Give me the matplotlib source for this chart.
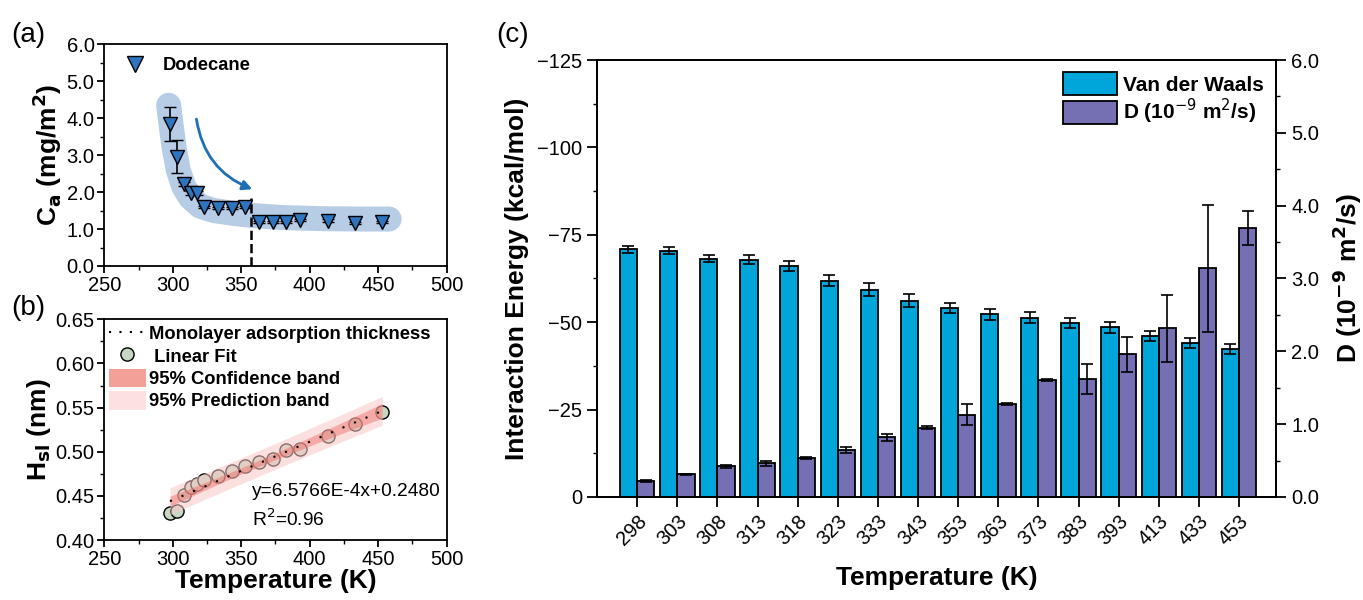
import numpy as np
import matplotlib
matplotlib.use("Agg")
import matplotlib.pyplot as plt
from matplotlib.patches import Patch
from matplotlib.lines import Line2D

plt.rcParams['font.family'] = ['Liberation Sans', 'DejaVu Sans']
plt.rcParams['axes.linewidth'] = 1.3
plt.rcParams['xtick.major.width'] = 1.3
plt.rcParams['ytick.major.width'] = 1.3
plt.rcParams['xtick.minor.width'] = 1.0
plt.rcParams['ytick.minor.width'] = 1.0

# ---- data ----
temps = [298, 303, 308, 313, 318, 323, 333, 343, 353, 363, 373, 383, 393, 413, 433, 453]

# (a) adsorption amount of dodecane
ca = [3.84, 2.96, 2.22, 1.97, 1.97, 1.60, 1.56, 1.56, 1.59, 1.20, 1.20, 1.20, 1.24, 1.23, 1.17, 1.20]
ca_err = [0.45, 0.45, 0.05, 0.05, 0.05, 0.03, 0.03, 0.03, 0.03, 0.03, 0.03, 0.03, 0.03, 0.03, 0.03, 0.03]

# (b) adsorption layer thickness
hsl = [0.431, 0.433, 0.451, 0.460, 0.464, 0.468, 0.473, 0.478, 0.484, 0.488,
       0.492, 0.502, 0.503, 0.518, 0.531, 0.545]

# (c) interaction energy and diffusion coefficient
vdw = [-70.8, -70.5, -68.2, -67.9, -66.1, -61.9, -59.3, -56.2, -54.1, -52.2,
       -51.3, -49.7, -48.5, -46.1, -44.1, -42.4]
vdw_err = [1.0, 1.0, 1.0, 1.2, 1.5, 1.5, 1.8, 1.8, 1.5, 1.5, 1.5, 1.5, 1.5, 1.5, 1.5, 1.5]
diff = [0.22, 0.31, 0.42, 0.46, 0.54, 0.64, 0.82, 0.95, 1.13, 1.28, 1.61, 1.62, 1.96, 2.32, 3.14, 3.69]
diff_err = [0.01, 0.01, 0.02, 0.04, 0.015, 0.04, 0.05, 0.02, 0.14, 0.015, 0.015, 0.21, 0.24, 0.46, 0.87, 0.23]

fig = plt.figure(figsize=(13.63, 6.0), dpi=100)

lab_fs = 19
tick_fs = 14.5

# ================= (a) =================
axa = fig.add_axes([0.0765, 0.5567, 0.2512, 0.3695])
# shaded guide band
bx = [297, 298.5, 301, 304, 308, 313, 320, 330, 345, 360, 380, 410, 440, 458]
by = [4.35, 3.9, 3.2, 2.6, 2.15, 1.85, 1.62, 1.5, 1.42, 1.36, 1.31, 1.28, 1.27, 1.27]
axa.plot(bx, by, color='#b7cde5', lw=18, solid_capstyle='round',
         solid_joinstyle='round', zorder=1)
axa.plot([357, 357], [0, 1.85], 'k--', lw=1.8, zorder=2)
axa.annotate('', xy=(360, 2.05), xytext=(317, 4.05),
             arrowprops=dict(arrowstyle='-|>', color='#1f6fb5', lw=2,
                             connectionstyle='arc3,rad=0.3', mutation_scale=14))
axa.errorbar(temps, ca, yerr=ca_err, fmt='v', color='k', ecolor='k', elinewidth=1.2,
             capsize=4, mfc='#2e75c0', mec='k', ms=10, mew=1.0, zorder=3)
axa.set_xlim(250, 500)
axa.set_ylim(0, 6)
axa.set_xticks([250, 300, 350, 400, 450, 500])
axa.set_xticks([275, 325, 375, 425, 475], minor=True)
axa.set_yticks(np.arange(0, 6.01, 1.0))
axa.set_yticks(np.arange(0.5, 6, 1.0), minor=True)
axa.set_yticklabels(['%.1f' % v for v in np.arange(0, 6.01, 1.0)])
axa.tick_params(labelsize=tick_fs, direction='out', length=5, pad=2)
axa.tick_params(which='minor', length=3)
axa.set_ylabel('C$_\\mathbf{a}$ (mg/m$^\\mathbf{2}$)', fontsize=lab_fs, fontweight='bold', labelpad=2)
h_a = [Line2D([], [], ls='', marker='v', ms=11, mfc='#2e75c0', mec='k')]
axa.legend(h_a, ['Dodecane'], loc='upper left', frameon=False,
           prop={'weight': 'bold', 'size': 13.2}, handletextpad=0.5, borderaxespad=0.3)
fig.text(0.008, 0.93, '(a)', fontsize=20)

# ================= (b) =================
axb = fig.add_axes([0.0765, 0.1, 0.2512, 0.3678])
T = np.array(temps, dtype=float)
H = np.array(hsl)
slope, icpt = np.polyfit(T, H, 1)
res = H - (slope * T + icpt)
n = len(T)
s = np.sqrt(np.sum(res ** 2) / (n - 2))
tval = 2.145
xf = np.linspace(298, 453, 100)
yf = slope * xf + icpt
se_fit = s * np.sqrt(1 / n + (xf - T.mean()) ** 2 / np.sum((T - T.mean()) ** 2))
se_pred = s * np.sqrt(1 + 1 / n + (xf - T.mean()) ** 2 / np.sum((T - T.mean()) ** 2))
axb.scatter(T, H, s=90, c='#c6d7c2', edgecolors='k', linewidths=1.0, zorder=2)
axb.fill_between(xf, yf - tval * se_pred, yf + tval * se_pred, color='#fbc8c8', alpha=0.55,
                 lw=0, zorder=3)
axb.fill_between(xf, yf - tval * se_fit, yf + tval * se_fit, color='#ee6a62', alpha=0.45,
                 lw=0, zorder=4)
axb.plot(xf, yf, color='k', ls=(0, (1, 5)), lw=1.5, zorder=5)
axb.set_xlim(250, 500)
axb.set_ylim(0.40, 0.65)
axb.set_xticks([250, 300, 350, 400, 450, 500])
axb.set_xticks([275, 325, 375, 425, 475], minor=True)
axb.set_yticks(np.arange(0.40, 0.651, 0.05))
axb.set_yticks(np.arange(0.425, 0.65, 0.05), minor=True)
axb.set_yticklabels(['%.2f' % v for v in np.arange(0.40, 0.651, 0.05)])
axb.tick_params(labelsize=tick_fs, direction='out', length=5, pad=2)
axb.tick_params(which='minor', length=3)
axb.set_ylabel('H$_\\mathbf{sl}$ (nm)', fontsize=lab_fs, fontweight='bold', labelpad=2)
axb.set_xlabel('Temperature (K)', fontsize=lab_fs, fontweight='bold', labelpad=0)
axb.text(358, 0.455, 'y=6.5766E-4x+0.2480', fontsize=13.8, va='center')
axb.text(358, 0.424, 'R$^2$=0.96', fontsize=13.8, va='center')
handles_b = [Line2D([], [], color='k', ls=(0, (1, 4)), lw=1.5),
             Line2D([], [], ls='', marker='o', ms=9.5, mfc='#c6d7c2', mec='k'),
             Patch(facecolor='#f3a099', edgecolor='none'),
             Patch(facecolor='#fde0e0', edgecolor='none')]
labels_b = ['Monolayer adsorption thickness', ' Linear Fit',
            '95% Confidence band', '95% Prediction band']
axb.legend(handles_b, labels_b, loc='upper left', frameon=False,
           prop={'weight': 'bold', 'size': 13.2}, handlelength=2.0, handleheight=1.2,
           handletextpad=0.2, labelspacing=0.15, borderaxespad=0.05, borderpad=0.2)
fig.text(0.008, 0.475, '(b)', fontsize=20)

# ================= (c) =================
axc = fig.add_axes([0.438, 0.1717, 0.4985, 0.7283])
xpos = np.arange(len(temps))
bw = 0.43
axc.bar(xpos, vdw, width=-bw, align='edge', color='#00a6d9', edgecolor='k', lw=1.3,
        yerr=vdw_err, capsize=4, error_kw=dict(elinewidth=1.2, capthick=1.2),
        label='Van der Waals')
axc.set_ylim(0, -125)
axc.set_xlim(-1, 15.93)
axc.set_yticks([0, -25, -50, -75, -100, -125])
axc.set_yticks([-12.5, -37.5, -62.5, -87.5, -112.5], minor=True)
axc.set_xticks(xpos)
axc.set_xticklabels([str(t) for t in temps], rotation=45, ha='right', rotation_mode='anchor')
axc.tick_params(labelsize=tick_fs, direction='out', length=7)
axc.tick_params(which='minor', length=3)
axc.set_ylabel('Interaction Energy (kcal/mol)', fontsize=lab_fs, fontweight='bold', labelpad=6)
axc.set_xlabel('Temperature (K)', fontsize=lab_fs, fontweight='bold', labelpad=12)

axd = axc.twinx()
axd.bar(xpos, diff, width=bw, align='edge', color='#7470b3', edgecolor='k', lw=1.3,
        yerr=diff_err, capsize=4, error_kw=dict(elinewidth=1.2, capthick=1.2),
        label='D (10$^{-9}$ m$^2$/s)')
axd.set_ylim(0, 6)
axd.set_yticks(np.arange(0, 6.01, 1.0))
axd.set_yticks(np.arange(0.5, 6, 1.0), minor=True)
axd.set_yticklabels(['%.1f' % v for v in np.arange(0, 6.01, 1.0)])
axd.tick_params(labelsize=tick_fs, direction='out', length=7)
axd.tick_params(which='minor', length=3)
axd.set_ylabel('D (10$^\\mathbf{-9}$ m$^\\mathbf{2}$/s)', fontsize=lab_fs, fontweight='bold',
               labelpad=8)
h1, l1 = axc.get_legend_handles_labels()
h2, l2 = axd.get_legend_handles_labels()
leg = axd.legend(h1 + h2, l1 + l2, loc='upper right', frameon=False,
                 prop={'weight': 'bold', 'size': 15}, handlelength=2.6, handleheight=1.3,
                 handletextpad=0.3, labelspacing=0.1, borderaxespad=0.2)
fig.text(0.364, 0.93, '(c)', fontsize=20)

fig.savefig('out.png', dpi=100)
